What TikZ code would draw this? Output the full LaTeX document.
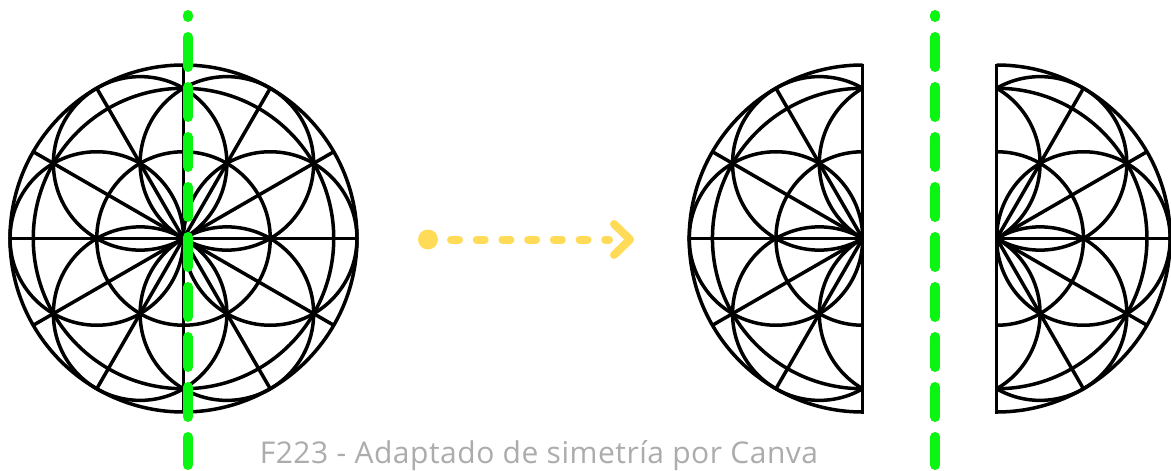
\documentclass[tikz,border=0pt]{standalone}
\usepackage{fontspec}
\setmainfont{Open Sans}
\usetikzlibrary{calc}

\definecolor{axisgreen}{RGB}{10,246,18}
\definecolor{arrowyellow}{RGB}{255,219,88}
\definecolor{captiongray}{RGB}{172,172,172}

\tikzset{
  figline/.style={line width=3.5pt, draw=black},
  mirroraxis/.style={line width=10pt, draw=axisgreen, line cap=round,
    dash pattern=on 30pt off 20pt, dash phase=28pt},
  arrowdash/.style={line width=8pt, draw=arrowyellow, line cap=round,
    dash pattern=on 8pt off 17.7pt},
  arrowhead/.style={line width=8pt, draw=arrowyellow, line cap=round, line join=round},
}

% Rosette: outer circle, two concentric circles, six petal circles, six diameters
\newcommand{\drawrosette}[1]{%
  \draw[figline] (#1) circle[radius=173.5pt];
  \draw[figline] (#1) circle[radius=150.25pt];
  \draw[figline] (#1) circle[radius=86.75pt];
  \foreach \a in {0,60,...,300}{%
    \draw[figline] ($(#1)+(\a:86.75pt)$) circle[radius=86.75pt];}
  \foreach \a in {0,30,...,150}{%
    \draw[figline] ($(#1)+(\a:173.5pt)$) -- ($(#1)+(\a+180:173.5pt)$);}
}

\begin{document}
\begin{tikzpicture}[x=1pt, y=-1pt]
  \useasboundingbox (0,0) rectangle (1171,471);
  \fill[white] (0,0) rectangle (1171,471);

  % whole rosette
  \coordinate (whole) at (183.5,238.5);
  \drawrosette{whole}

  % left half
  \coordinate (lefthalf) at (862.7,238.5);
  \begin{scope}
    \clip (680,50) rectangle (862.7,430);
    \drawrosette{lefthalf}
  \end{scope}
  \draw[figline] ($(lefthalf)+(0,-175)$) -- ($(lefthalf)+(0,175)$);

  % right half
  \coordinate (righthalf) at (996.7,238.5);
  \begin{scope}
    \clip (996.7,50) rectangle (1180,430);
    \drawrosette{righthalf}
  \end{scope}
  \draw[figline] ($(righthalf)+(0,-175)$) -- ($(righthalf)+(0,175)$);

  % symmetry axes
  \coordinate (axisAtop) at (188,15);
  \coordinate (axisAbot) at (188,465);
  \draw[mirroraxis] (axisAtop) -- (axisAbot);
  \coordinate (axisBtop) at (935,15);
  \coordinate (axisBbot) at (935,465);
  \draw[mirroraxis] (axisBtop) -- (axisBbot);

  % dotted arrow
  \coordinate (arrowstart) at (428,239.5);
  \coordinate (dashstart) at (451,239.5);
  \coordinate (dashend) at (609,239.5);
  \coordinate (tip) at (630,239.5);
  \fill[arrowyellow] (arrowstart) circle[radius=10pt];
  \draw[arrowdash] (dashstart) -- (dashend);
  \draw[arrowhead] ($(tip)+(-16,-15.5)$) -- (tip) -- ($(tip)+(-16,15.5)$);

  % caption
  \node[anchor=base, text=captiongray, inner sep=0pt,
        font=\fontsize{30}{36}\selectfont\addfontfeatures{LetterSpace=1.7}]
        (caption) at (539,463)
        {F223 - Adaptado de simetría por Canva};
\end{tikzpicture}
\end{document}
